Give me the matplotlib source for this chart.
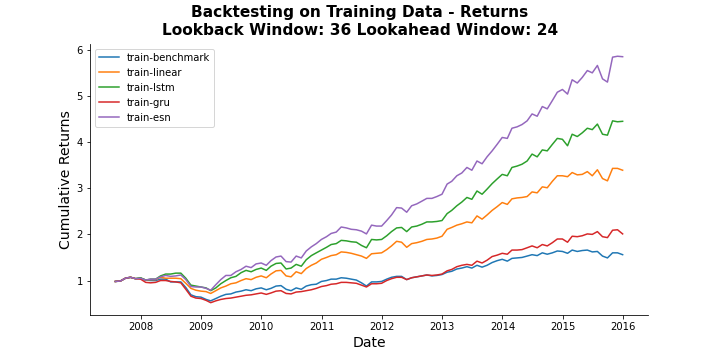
import pandas as pd
import matplotlib
matplotlib.use('Agg')
import matplotlib.pyplot as plt

# monthly cumulative returns, Jul 2007 - Dec 2015
start_month = '2007-07-31'

benchmark = [0.98, 0.99, 1.05, 1.07, 1.04, 1.05, 1.01, 1.00, 1.00, 1.03, 1.03, 0.97,
             0.97, 0.97, 0.85, 0.69, 0.65, 0.64, 0.59, 0.56, 0.61, 0.66, 0.70, 0.71,
             0.75, 0.77, 0.80, 0.78, 0.82, 0.84, 0.80, 0.83, 0.88, 0.89, 0.81, 0.78,
             0.84, 0.81, 0.88, 0.91, 0.92, 0.98, 1.00, 1.03, 1.03, 1.06, 1.05, 1.03,
             1.01, 0.95, 0.88, 0.97, 0.97, 0.98, 1.03, 1.07, 1.09, 1.09, 1.02, 1.06,
             1.08, 1.10, 1.12, 1.10, 1.11, 1.13, 1.18, 1.20, 1.25, 1.27, 1.30, 1.27,
             1.33, 1.29, 1.33, 1.39, 1.43, 1.46, 1.42, 1.48, 1.49, 1.50, 1.53, 1.56,
             1.54, 1.60, 1.57, 1.60, 1.64, 1.63, 1.59, 1.66, 1.63, 1.65, 1.66, 1.62,
             1.63, 1.53, 1.49, 1.60, 1.60, 1.56]

linear = [0.98, 0.99, 1.05, 1.07, 1.04, 1.05, 1.01, 1.02, 1.02, 1.07, 1.05, 1.05,
          1.05, 1.04, 0.94, 0.83, 0.79, 0.77, 0.76, 0.72, 0.78, 0.84, 0.88, 0.93,
          0.95, 1.00, 1.04, 1.02, 1.07, 1.10, 1.06, 1.14, 1.21, 1.22, 1.10, 1.08,
          1.19, 1.15, 1.26, 1.33, 1.38, 1.46, 1.50, 1.54, 1.56, 1.62, 1.61, 1.59,
          1.56, 1.53, 1.48, 1.58, 1.59, 1.60, 1.67, 1.75, 1.85, 1.83, 1.72, 1.80,
          1.82, 1.85, 1.89, 1.90, 1.92, 1.96, 2.11, 2.15, 2.20, 2.23, 2.27, 2.25,
          2.40, 2.33, 2.42, 2.52, 2.60, 2.69, 2.65, 2.77, 2.79, 2.80, 2.82, 2.92,
          2.90, 3.03, 3.01, 3.15, 3.27, 3.27, 3.25, 3.34, 3.29, 3.30, 3.36, 3.27,
          3.40, 3.21, 3.16, 3.43, 3.43, 3.39]

lstm = [0.98, 0.99, 1.05, 1.07, 1.04, 1.06, 1.01, 1.03, 1.03, 1.10, 1.14, 1.14,
        1.16, 1.16, 1.05, 0.90, 0.88, 0.86, 0.84, 0.78, 0.84, 0.93, 1.00, 1.06,
        1.09, 1.17, 1.22, 1.19, 1.24, 1.27, 1.22, 1.31, 1.37, 1.38, 1.25, 1.27,
        1.35, 1.31, 1.45, 1.54, 1.60, 1.66, 1.72, 1.78, 1.80, 1.87, 1.86, 1.84,
        1.83, 1.76, 1.71, 1.89, 1.88, 1.89, 1.97, 2.06, 2.14, 2.15, 2.06, 2.16,
        2.18, 2.22, 2.27, 2.27, 2.28, 2.30, 2.45, 2.52, 2.62, 2.70, 2.80, 2.76,
        2.94, 2.87, 2.98, 3.10, 3.20, 3.30, 3.27, 3.45, 3.48, 3.52, 3.59, 3.74,
        3.68, 3.83, 3.81, 3.95, 4.08, 4.06, 3.92, 4.17, 4.12, 4.20, 4.30, 4.27,
        4.39, 4.17, 4.15, 4.46, 4.44, 4.45]

gru = [0.98, 0.99, 1.05, 1.07, 1.04, 1.03, 0.96, 0.95, 0.96, 1.00, 1.00, 0.98,
       0.97, 0.95, 0.81, 0.66, 0.62, 0.61, 0.57, 0.52, 0.56, 0.59, 0.61, 0.62,
       0.64, 0.66, 0.68, 0.69, 0.71, 0.73, 0.70, 0.73, 0.77, 0.78, 0.72, 0.71,
       0.75, 0.76, 0.78, 0.80, 0.83, 0.87, 0.89, 0.92, 0.93, 0.96, 0.96, 0.95,
       0.94, 0.90, 0.86, 0.93, 0.93, 0.94, 1.00, 1.04, 1.07, 1.07, 1.02, 1.06,
       1.08, 1.10, 1.12, 1.11, 1.12, 1.14, 1.21, 1.24, 1.30, 1.33, 1.35, 1.33,
       1.42, 1.38, 1.44, 1.52, 1.55, 1.59, 1.57, 1.66, 1.66, 1.67, 1.71, 1.75,
       1.71, 1.78, 1.75, 1.82, 1.90, 1.90, 1.83, 1.96, 1.95, 1.97, 2.01, 2.00,
       2.06, 1.95, 1.93, 2.09, 2.10, 2.01]

esn = [0.98, 0.99, 1.05, 1.07, 1.04, 1.05, 1.01, 1.03, 1.03, 1.08, 1.11, 1.09,
       1.10, 1.12, 1.02, 0.87, 0.86, 0.86, 0.83, 0.79, 0.91, 1.02, 1.11, 1.11,
       1.19, 1.24, 1.31, 1.28, 1.36, 1.38, 1.33, 1.43, 1.51, 1.53, 1.41, 1.40,
       1.53, 1.49, 1.64, 1.73, 1.80, 1.89, 1.95, 2.02, 2.05, 2.16, 2.14, 2.11,
       2.10, 2.07, 2.01, 2.20, 2.18, 2.18, 2.30, 2.42, 2.58, 2.57, 2.48, 2.62,
       2.66, 2.72, 2.78, 2.78, 2.82, 2.87, 3.09, 3.15, 3.27, 3.33, 3.45, 3.39,
       3.59, 3.53, 3.68, 3.81, 3.95, 4.10, 4.08, 4.30, 4.33, 4.38, 4.46, 4.61,
       4.56, 4.77, 4.72, 4.90, 5.08, 5.14, 5.04, 5.35, 5.28, 5.40, 5.55, 5.50,
       5.66, 5.37, 5.30, 5.84, 5.86, 5.85]

dates = pd.date_range(start_month, periods=len(benchmark), freq='ME')
df = pd.DataFrame({'train-benchmark': benchmark,
                   'train-linear': linear,
                   'train-lstm': lstm,
                   'train-gru': gru,
                   'train-esn': esn}, index=dates)

fig, ax = plt.subplots(figsize=(10, 5), dpi=72)
fig.subplots_adjust(left=0.125, right=0.9, bottom=0.125, top=0.878)

for col in df.columns:
    ax.plot(df.index, df[col], label=col, linewidth=1.5)

fig.suptitle('Backtesting on Training Data - Returns\nLookback Window: 36 Lookahead Window: 24',
             fontsize=15.4, fontweight='bold', y=0.985)
ax.set_xlabel('Date', fontsize=14)
ax.set_ylabel('Cumulative Returns', fontsize=14)
ax.legend(loc='upper left', fontsize=10)
ax.spines['top'].set_visible(False)
ax.spines['right'].set_visible(False)

fig.savefig('out.png', dpi=72)
